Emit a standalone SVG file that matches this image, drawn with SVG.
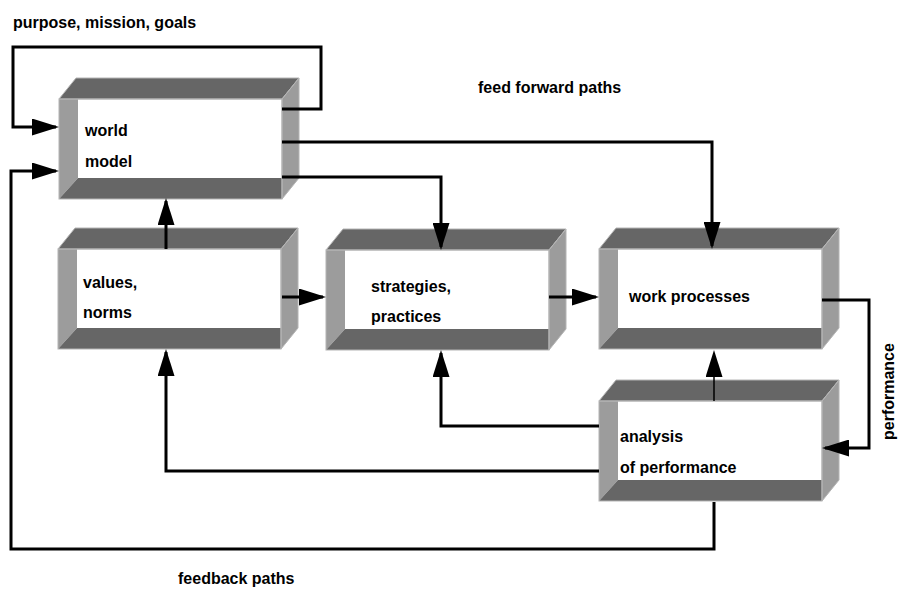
<svg xmlns="http://www.w3.org/2000/svg" xmlns:xlink="http://www.w3.org/1999/xlink" width="899" height="592" viewBox="0 0 899 592">
  <style>
    .t { font-family: "Liberation Sans", Arial, sans-serif; font-weight: bold; font-size: 16px; fill: #000; }
    .c { fill: none; stroke: #000; stroke-width: 3; marker-end: url(#arr); }
    .thin { stroke-width: 1.5; }
    .dark { fill: #666666; }
    .light { fill: #9c9c9c; }
    .edge { fill: none; stroke: #b4b4b4; stroke-width: 1; }
  </style>
  <defs>
    <marker id="arr" viewBox="0 0 27 17" refX="24" refY="8.5" markerWidth="27" markerHeight="17" markerUnits="userSpaceOnUse" orient="auto">
      <path d="M0,0 L27,8.5 L0,17 Z" fill="#000"/>
    </marker>
    <g id="box">
      <polygon class="dark" points="0,0 17,-21 240,-21 223,0"/>
      <polygon class="light" points="223,0 240,-21 240,79 223,100"/>
      <rect x="0" y="0" width="223" height="100" fill="#fff"/>
      <polygon class="light" points="0,0 19,0 19,79 0,100"/>
      <polygon class="dark" points="19,79 223,79 223,100 0,100"/>
      <rect class="edge" x="0" y="0" width="223" height="100"/>
      <polygon class="edge" points="0,0 17,-21 240,-21 223,0"/>
      <polygon class="edge" points="223,0 240,-21 240,79 223,100"/>
    </g>
  </defs>
  <rect width="899" height="592" fill="#fff"/>

  <g id="world-model">
    <use xlink:href="#box" href="#box" x="59" y="99"/>
    <text class="t" x="85" y="136">world</text>
    <text class="t" x="85" y="167">model</text>
  </g>
  <g id="values-norms">
    <use xlink:href="#box" href="#box" x="58" y="249"/>
    <text class="t" x="83" y="288">values,</text>
    <text class="t" x="83" y="318">norms</text>
  </g>
  <g id="strategies-practices">
    <use xlink:href="#box" href="#box" x="326" y="250"/>
    <text class="t" x="371" y="292">strategies,</text>
    <text class="t" x="371" y="322">practices</text>
  </g>
  <g id="work-processes">
    <use xlink:href="#box" href="#box" x="599" y="249"/>
    <text class="t" x="629" y="302">work processes</text>
  </g>
  <g id="analysis-of-performance">
    <use xlink:href="#box" href="#box" x="599" y="401"/>
    <text class="t" x="620" y="442">analysis</text>
    <text class="t" x="620" y="473">of performance</text>
  </g>

  <g id="connectors">
    <path class="c" d="M282,109 H321 V47 H13 V127 H56"/>
    <path class="c" d="M714,502 V549 H11 V171 H56"/>
    <path class="c" d="M282,177 H441 V247"/>
    <path class="c" d="M282,142 H712 V246"/>
    <path class="c" d="M166,249 V201"/>
    <path class="c" d="M282,297 H323"/>
    <path class="c" d="M549,297 H596"/>
    <path class="c" d="M822,300 H869 V448 H825"/>
    <path class="c thin" d="M714,401 V353"/>
    <path class="c" d="M599,426 H441 V353"/>
    <path class="c" d="M599,471 H166 V352"/>
  </g>

  <g id="labels">
    <text class="t" x="13" y="28">purpose, mission, goals</text>
    <text class="t" x="478" y="93">feed forward paths</text>
    <text class="t" x="178" y="584">feedback paths</text>
    <text class="t" transform="translate(894,440) rotate(-90)">performance</text>
  </g>
</svg>
